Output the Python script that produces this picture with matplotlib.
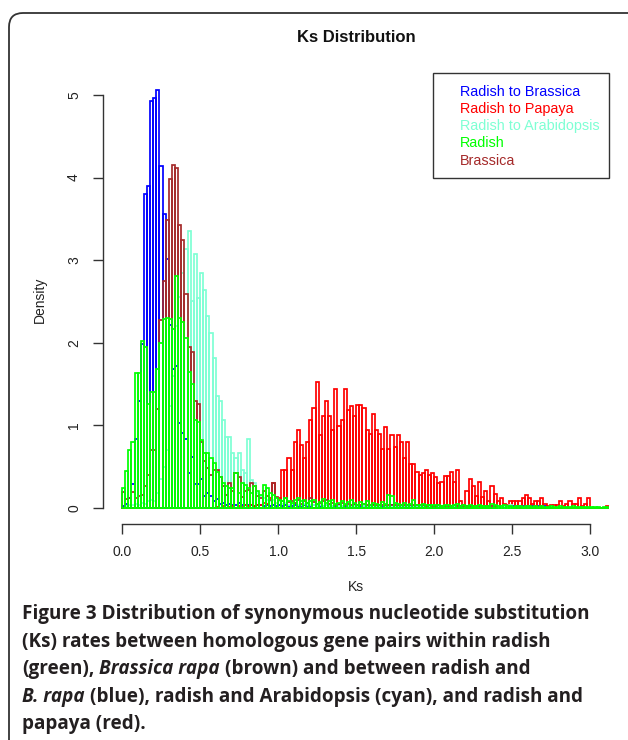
import numpy as np
import matplotlib
matplotlib.use("Agg")
import matplotlib.pyplot as plt
from matplotlib.patches import FancyBboxPatch, Rectangle
from matplotlib.transforms import IdentityTransform

# histogram densities, bin width 0.02 starting at Ks = 0
bin_width = 0.02

radish_brassica = [
    0.02, 0.05, 0.12, 0.29, 0.83, 1.30, 1.98, 3.80, 3.90, 4.93,
    4.96, 5.06, 4.14, 3.56, 3.01, 2.22, 1.68, 1.72, 1.03, 0.91,
    0.83, 0.42, 0.62, 0.29, 0.29, 0.35, 0.14, 0.18, 0.14, 0.08,
    0.11, 0.05, 0.06, 0.04, 0.05, 0.03, 0.04, 0.06, 0.03, 0.04,
    0.03, 0.04, 0.02, 0.03, 0.04, 0.02, 0.03, 0.02, 0.03, 0.02,
    0.03, 0.02, 0.03, 0.02, 0.02, 0.03, 0.02, 0.02, 0.03, 0.02,
    0.02, 0.03, 0.02, 0.02, 0.02, 0.03, 0.02, 0.02, 0.02, 0.03,
    0.02, 0.02, 0.02, 0.02, 0.03, 0.02, 0.02, 0.02, 0.02, 0.02,
    0.03, 0.02, 0.02, 0.02, 0.02, 0.02, 0.03, 0.02, 0.02, 0.02,
    0.02, 0.02, 0.02, 0.02, 0.02, 0.02, 0.02, 0.02, 0.02, 0.02,
    0.02, 0.02, 0.02, 0.02, 0.02, 0.02, 0.02, 0.02, 0.02, 0.02,
    0.02, 0.02, 0.02, 0.02, 0.02, 0.02, 0.02, 0.02, 0.02, 0.02,
    0.02, 0.02, 0.02, 0.02, 0.02, 0.02, 0.02, 0.02, 0.02, 0.02,
    0.02, 0.02, 0.02, 0.02, 0.02, 0.02,
]

radish_papaya = [
    0.00, 0.00, 0.00, 0.00, 0.00, 0.00, 0.00, 0.00, 0.00, 0.00,
    0.00, 0.00, 0.00, 0.00, 0.00, 0.00, 0.00, 0.00, 0.00, 0.00,
    0.00, 0.00, 0.00, 0.00, 0.00, 0.00, 0.00, 0.00, 0.00, 0.00,
    0.01, 0.00, 0.02, 0.00, 0.01, 0.02, 0.00, 0.02, 0.01, 0.03,
    0.02, 0.03, 0.02, 0.04, 0.03, 0.06, 0.05, 0.12, 0.30, 0.06,
    0.12, 0.46, 0.46, 0.61, 0.46, 0.80, 0.95, 0.76, 0.60, 0.80,
    1.07, 1.21, 1.52, 0.88, 1.11, 1.29, 1.11, 0.95, 1.44, 0.99,
    1.07, 1.44, 1.19, 1.23, 1.11, 1.25, 1.25, 1.21, 0.94, 0.90,
    1.14, 0.94, 0.90, 0.72, 0.98, 0.72, 0.88, 0.74, 0.88, 0.80,
    0.60, 0.80, 0.53, 0.53, 0.44, 0.40, 0.42, 0.46, 0.40, 0.42,
    0.38, 0.30, 0.32, 0.39, 0.39, 0.43, 0.32, 0.46, 0.09, 0.04,
    0.20, 0.35, 0.27, 0.15, 0.31, 0.13, 0.20, 0.09, 0.27, 0.17,
    0.09, 0.12, 0.05, 0.04, 0.09, 0.09, 0.09, 0.09, 0.12, 0.16,
    0.12, 0.05, 0.09, 0.09, 0.12, 0.05, 0.02, 0.04, 0.04, 0.04,
    0.09, 0.02, 0.05, 0.09, 0.05, 0.05, 0.12, 0.02, 0.05, 0.12,
    0.00, 0.00, 0.00, 0.00, 0.00, 0.02,
]

radish_arabidopsis = [
    0.00, 0.02, 0.03, 0.03, 0.05, 0.04, 0.06, 0.05, 0.08, 0.10,
    0.08, 0.18, 0.35, 0.50, 0.70, 1.23, 1.60, 2.20, 2.55, 2.84,
    3.14, 3.35, 2.50, 3.07, 2.54, 2.84, 2.64, 2.33, 2.12, 1.81,
    1.35, 1.29, 1.07, 0.86, 0.86, 0.66, 0.60, 0.66, 0.46, 0.42,
    0.83, 0.34, 0.30, 0.18, 0.15, 0.12, 0.10, 0.08, 0.10, 0.06,
    0.08, 0.05, 0.06, 0.04, 0.05, 0.06, 0.03, 0.04, 0.05, 0.03,
    0.04, 0.03, 0.02, 0.03, 0.02, 0.03, 0.02, 0.02, 0.03, 0.02,
    0.02, 0.03, 0.02, 0.02, 0.02, 0.02, 0.03, 0.02, 0.02, 0.02,
    0.02, 0.02, 0.02, 0.03, 0.02, 0.02, 0.02, 0.02, 0.02, 0.02,
    0.02, 0.02, 0.02, 0.02, 0.02, 0.02, 0.02, 0.02, 0.02, 0.02,
    0.02, 0.02, 0.02, 0.02, 0.02, 0.02, 0.02, 0.02, 0.02, 0.02,
    0.02, 0.02, 0.02, 0.02, 0.02, 0.02, 0.02, 0.02, 0.02, 0.02,
    0.02, 0.02, 0.02, 0.02, 0.03,
]

radish = [
    0.24, 0.45, 0.70, 0.80, 1.63, 1.64, 2.02, 1.95, 1.26, 1.40,
    1.40, 1.68, 2.00, 2.29, 2.30, 2.29, 2.17, 2.81, 2.30, 2.25,
    2.06, 1.65, 1.50, 1.07, 1.04, 0.82, 0.66, 0.66, 0.60, 0.54,
    0.44, 0.38, 0.30, 0.26, 0.24, 0.24, 0.42, 0.18, 0.30, 0.28,
    0.24, 0.18, 0.26, 0.20, 0.16, 0.28, 0.24, 0.18, 0.16, 0.12,
    0.10, 0.08, 0.12, 0.09, 0.06, 0.10, 0.12, 0.08, 0.10, 0.06,
    0.08, 0.10, 0.05, 0.07, 0.11, 0.06, 0.08, 0.10, 0.05, 0.06,
    0.09, 0.05, 0.07, 0.10, 0.06, 0.04, 0.07, 0.05, 0.08, 0.04,
    0.06, 0.05, 0.04, 0.07, 0.05, 0.16, 0.15, 0.06, 0.05, 0.04,
    0.06, 0.04, 0.05, 0.10, 0.04, 0.03, 0.05, 0.03, 0.04, 0.03,
    0.04, 0.03, 0.02, 0.04, 0.03, 0.02, 0.03, 0.05, 0.02, 0.03,
    0.02, 0.03, 0.02, 0.02, 0.03, 0.02, 0.02, 0.02, 0.05, 0.03,
    0.02, 0.02, 0.03, 0.02, 0.02, 0.01, 0.02, 0.02, 0.01, 0.02,
    0.02, 0.01, 0.02, 0.01, 0.02, 0.01, 0.01, 0.02, 0.01, 0.01,
    0.02, 0.01, 0.01, 0.01, 0.02, 0.01, 0.01, 0.01, 0.01, 0.01,
    0.01, 0.01, 0.01, 0.00, 0.01, 0.01,
]

brassica = [
    0.19, 0.11, 0.12, 0.19, 0.12, 0.15, 0.16, 0.26, 0.40, 0.70,
    0.70, 1.20, 2.27, 2.75, 3.49, 3.98, 4.15, 4.11, 3.43, 3.24,
    2.59, 1.95, 1.89, 1.29, 1.26, 0.80, 0.57, 0.49, 0.40, 0.46,
    0.46, 0.37, 0.26, 0.16, 0.30, 0.20, 0.42, 0.38, 0.13, 0.20,
    0.22, 0.30, 0.26, 0.15, 0.12, 0.20, 0.15, 0.10, 0.30, 0.13,
    0.10, 0.08, 0.12, 0.07, 0.09, 0.06, 0.10, 0.05, 0.08, 0.06,
    0.12, 0.07, 0.05, 0.06, 0.08, 0.10, 0.05, 0.06, 0.04, 0.05,
    0.06, 0.04, 0.05, 0.03, 0.05, 0.04, 0.03, 0.05, 0.03, 0.04,
    0.03, 0.04, 0.03, 0.03, 0.04, 0.03, 0.03, 0.04, 0.03, 0.03,
    0.03, 0.03, 0.03, 0.03, 0.03, 0.03, 0.03, 0.02, 0.03, 0.02,
    0.02, 0.03, 0.02, 0.02, 0.02, 0.02, 0.03, 0.02, 0.02, 0.02,
    0.02, 0.02, 0.02, 0.02, 0.02, 0.02, 0.02, 0.02, 0.02, 0.02,
]

series_names = ["Radish to Brassica", "Radish to Papaya", "Radish to Arabidopsis",
                "Radish", "Brassica"]
series_colors = ["#0000FF", "#FF0000", "#7FFFD4", "#00FF00", "#A52A2A"]
series_data = [radish_brassica, radish_papaya, radish_arabidopsis, radish, brassica]
draw_order = [0, 1, 2, 4, 3]

x_ticks = [0.0, 0.5, 1.0, 1.5, 2.0, 2.5, 3.0]
y_ticks = [0, 1, 2, 3, 4, 5]

W, H = 628, 740
fig = plt.figure(figsize=(W / 100, H / 100), dpi=100)
plt.rcParams["font.family"] = ["Liberation Sans", "DejaVu Sans"]


def py(y):
    # image pixel row -> figure fraction
    return 1 - y / H


# plot region in image pixels
left_px, right_px, top_px, bottom_px = 103.3, 609.0, 73.5, 524.0
ax = fig.add_axes([left_px / W, py(bottom_px), (right_px - left_px) / W,
                   (bottom_px - top_px) / H])
ax.set_xlim(-0.12, 3.12)
ax.set_ylim(-0.194, 5.26)

for i in draw_order:
    h = np.array(series_data[i])
    left = np.arange(len(h)) * bin_width
    ax.bar(left, h, width=bin_width, align="edge", fill=False,
           edgecolor=series_colors[i], linewidth=1.25)

for s in ["top", "right"]:
    ax.spines[s].set_visible(False)
ax.spines["bottom"].set_bounds(0, 3)
ax.spines["left"].set_bounds(0, 5)
for s in ["bottom", "left"]:
    ax.spines[s].set_color("#333333")
    ax.spines[s].set_linewidth(1.0)

ax.set_xticks(x_ticks)
ax.set_xticklabels(["%.1f" % t for t in x_ticks])
ax.set_yticks(y_ticks)
ax.set_yticklabels([str(t) for t in y_ticks], rotation=90, va="center")
ax.tick_params(length=7, width=1.0, color="#333333", labelsize=10,
               labelcolor="#222222")
ax.tick_params(axis="x", pad=8)
ax.tick_params(axis="y", pad=9)

fig.text(356 / W, py(38), "Ks Distribution", ha="center", va="center",
         fontsize=12, fontweight="bold", color="#111111")
fig.text(356 / W, py(587), "Ks", ha="center", va="center", fontsize=10,
         color="#222222")
fig.text(40 / W, py(300), "Density", ha="center", va="center", rotation=90,
         fontsize=10, color="#222222")

# legend box with coloured text only
fig.add_artist(Rectangle((432.5 / W, py(178)), (right_px - 432.5) / W, (178 - 73.5) / H,
                         transform=fig.transFigure, fill=False,
                         edgecolor="#333333", linewidth=1.0))
for k, (name, col) in enumerate(zip(series_names, series_colors)):
    fig.text(460 / W, py(91.5 + 17.3 * k), name, ha="left", va="center",
             fontsize=10.4, color=col)

# rounded frame around the figure
fig.add_artist(FancyBboxPatch((9, -40), 660, 740 - 13 + 40,
                              boxstyle="round,pad=0,rounding_size=14",
                              transform=IdentityTransform(), fill=False,
                              edgecolor="#333333", linewidth=1.3))

# caption
caption = [
    [("Figure 3 Distribution of synonymous nucleotide substitution", "normal")],
    [("(Ks) rates between homologous gene pairs within radish", "normal")],
    [("(green),", "normal"), (" ", "space"), ("Brassica rapa", "italic"),
     (" ", "space"), ("(brown) and between radish and", "normal")],
    [("B. rapa", "italic"), (" ", "space"),
     ("(blue), radish and Arabidopsis (cyan), and radish and", "normal")],
    [("papaya (red).", "normal")],
]
cap_font = ["Open Sans", "DejaVu Sans"]
cap_size = 13.55
renderer = fig.canvas.get_renderer()
t1 = fig.text(0, 0, "xx", fontsize=cap_size, fontweight="bold", family=cap_font)
t2 = fig.text(0, 0, "x x", fontsize=cap_size, fontweight="bold", family=cap_font)
space_w = t2.get_window_extent(renderer).width - t1.get_window_extent(renderer).width
t1.remove()
t2.remove()

for row, parts in enumerate(caption):
    x = 22.0
    y = 614 + 27.6 * row
    for txt, style in parts:
        if style == "space":
            x += space_w
            continue
        t = fig.text(x / W, py(y), txt, ha="left", va="center", fontsize=cap_size,
                     fontweight="bold", style=style, family=cap_font,
                     color="#231f20")
        x += t.get_window_extent(renderer).width

fig.savefig("out.png", dpi=100)
